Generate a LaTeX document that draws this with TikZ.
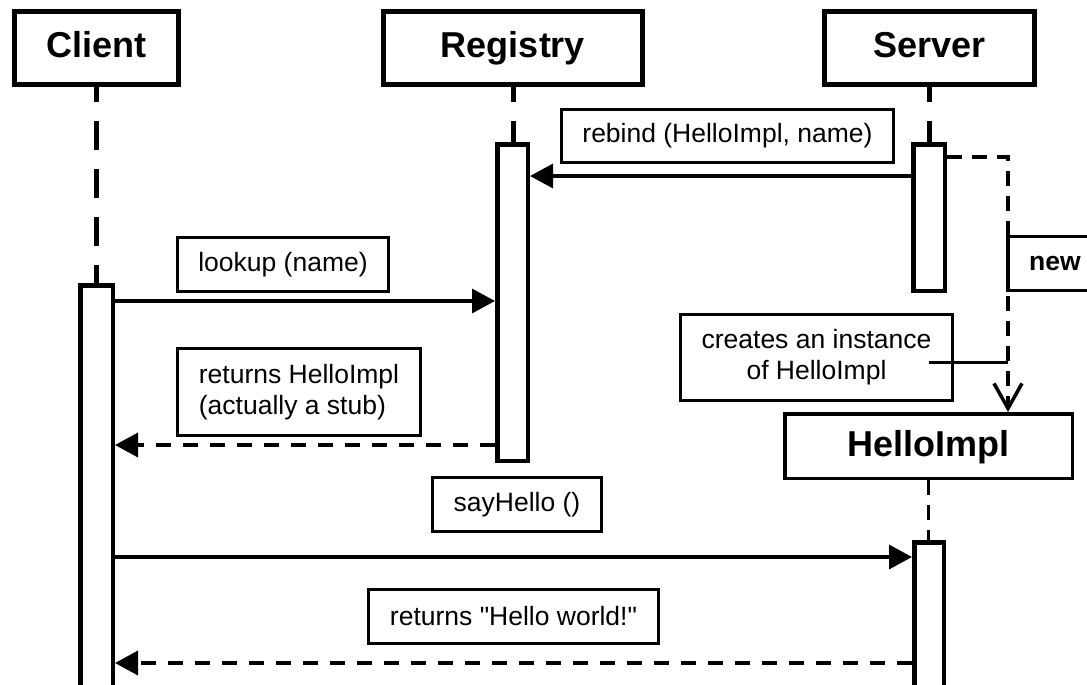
\documentclass[tikz,border=0pt]{standalone}
\usepackage{fontspec}
\setmainfont{Liberation Sans}[Ligatures=TeXOff]
\usetikzlibrary{arrows.meta}

\begin{document}
\begin{tikzpicture}[x=1pt, y=-1pt,
  header/.style={draw, fill=white, line width=5pt, inner sep=0pt,
    text height=26pt, text depth=6pt,
    font=\fontsize{36}{40}\selectfont\bfseries},
  msgbox/.style={draw, fill=white, line width=3.3pt, inner sep=0pt,
    font=\fontsize{26.5}{31}\selectfont},
  actbar/.style={draw, fill=white, line width=4.5pt, inner sep=0pt},
  lifeline/.style={line width=5pt, dash pattern=on 29pt off 19pt, dash phase=14pt},
  thindash/.style={line width=3.5pt, dash pattern=on 15pt off 10pt},
  call/.style={line width=3.3pt, -{Triangle[length=23pt,width=24pt]}},
  reply/.style={line width=3.5pt, dash pattern=on 15pt off 12pt,
    -{Triangle[length=23pt,width=24pt]}},
]
\useasboundingbox (0,0) rectangle (1087,685);
\fill[white] (0,0) rectangle (1087,685);
\clip (0,0) rectangle (1087,685);

% participants
\node[header, minimum width=164pt, minimum height=73pt] (client) at (96.5,48) {Client};
\node[header, minimum width=259pt, minimum height=73pt] (registry) at (513,48) {Registry};
\node[header, minimum width=210pt, minimum height=73pt] (server) at (929.5,48) {Server};
\node[header, line width=3.5pt, minimum width=287.5pt, minimum height=64.5pt] (hello) at (928.5,446) {HelloImpl};

% activation bars
\node[actbar, anchor=north, minimum width=32.5pt, minimum height=420pt] (clientact) at (96.5,283) {};
\node[actbar, minimum width=30.5pt, minimum height=316.5pt] (regact) at (512.5,302.5) {};
\node[actbar, minimum width=31.5pt, minimum height=146.5pt] (serveract) at (929,217.5) {};
\node[actbar, anchor=north, minimum width=29.5pt, minimum height=200pt] (helloact) at (929,540) {};

% lifelines
\draw[lifeline] (client.south) -- (client.south |- clientact.north);
\draw[lifeline] (registry.south) -- (registry.south |- regact.north);
\draw[lifeline] (server.south) -- (server.south |- serveract.north);
\draw[thindash] (hello.south) -- (hello.south |- helloact.north);

% message labels
\node[msgbox, minimum width=331.7pt, minimum height=52.7pt] (rebind) at (727.5,136) {rebind (HelloImpl, name)};
\node[msgbox, minimum width=210.7pt, minimum height=53.7pt] (lookup) at (283,264.5) {lookup (name)};
\node[msgbox, minimum width=242.7pt, minimum height=86.7pt, align=left] (stubret) at (299,392) {returns HelloImpl\\(actually a stub)};
\node[msgbox, minimum width=168.7pt, minimum height=53.7pt] (sayhello) at (517,504.5) {sayHello ()};
\node[msgbox, minimum width=289.7pt, minimum height=53.7pt] (worldret) at (513.5,616.5) {returns "Hello world!"};
\node[msgbox, minimum width=271.7pt, minimum height=85.7pt, align=center] (note) at (816.5,357.5) {creates an instance\\of HelloImpl};

% message rows
\coordinate (yrebind) at (0,176);
\coordinate (ylookup) at (0,301);
\coordinate (ystub) at (0,445);
\coordinate (ysay) at (0,557);
\coordinate (yworld) at (0,663);

\draw[call] (serveract.west |- yrebind) -- (regact.east |- yrebind);
\draw[call] (clientact.east |- ylookup) -- (regact.west |- ylookup);
\draw[reply] (regact.west |- ystub) -- (clientact.east |- ystub);
\draw[call] (clientact.east |- ysay) -- (helloact.west |- ysay);
\draw[reply] (helloact.west |- yworld) -- (clientact.east |- yworld);

% creation of the HelloImpl object
\coordinate (newturn) at (1008,157);
\draw[thindash, -{Straight Barb[length=25pt,width=28pt]}]
  (serveract.east |- newturn) -- (newturn) -- (newturn |- hello.north);
\node[msgbox, font=\fontsize{26.5}{31}\selectfont\bfseries, anchor=west,
  minimum width=93.7pt, minimum height=53.7pt] (newlbl) at (1006.35,263.5) {new};

% note connector
\coordinate (notetail) at (929,362);
\draw[line width=3pt] (notetail) -- (notetail -| newturn);
\end{tikzpicture}
\end{document}
